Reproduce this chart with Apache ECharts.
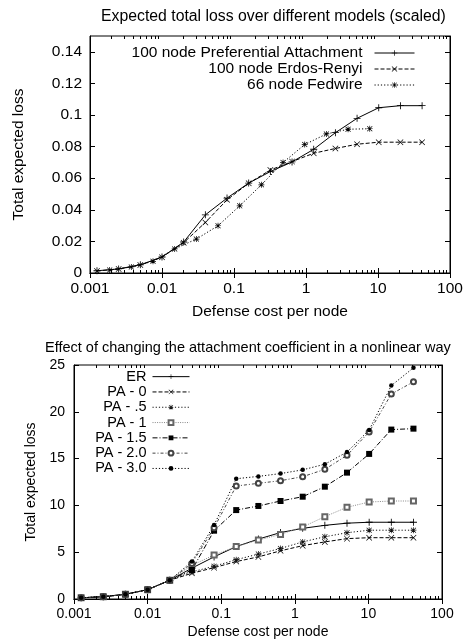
<!DOCTYPE html>
<html>
<head>
<meta charset="utf-8">
<script src="https://cdn.jsdelivr.net/npm/echarts@6/dist/echarts.min.js"></script>
<style>
html,body{margin:0;padding:0;background:#fff;}
#c{width:466px;height:643px;}
</style>
</head>
<body>
<div id="c"></div>
<script>
// ---------- Top chart data ----------
const topTitle = 'Expected total loss over different models (scaled)';
const topX = [0.00125, 0.0025, 0.005, 0.01, 0.02, 0.04, 0.08, 0.16, 0.32, 0.64, 1.28, 2.56, 5.12, 10.24, 20.48, 40.96];
const topPA = [0.0014, 0.0026, 0.0052, 0.0101, 0.0196, 0.0368, 0.0474, 0.0569, 0.0642, 0.0703, 0.0783, 0.0888, 0.0979, 0.1046, 0.1059, 0.1059];
const topER = [0.0013, 0.0025, 0.0050, 0.0100, 0.0192, 0.0320, 0.0463, 0.0568, 0.0652, 0.0705, 0.0758, 0.0788, 0.0815, 0.0828, 0.0828, 0.0828];
const fedX = [0.001875, 0.00375, 0.0075, 0.015, 0.03, 0.06, 0.12, 0.24, 0.48, 0.96, 1.92, 3.84, 7.68];
const fedY = [0.0019, 0.0038, 0.0074, 0.0152, 0.0215, 0.0299, 0.0425, 0.0558, 0.0699, 0.0813, 0.0880, 0.0910, 0.0913];
const topNames = ['100 node Preferential Attachment', '100 node Erdos-Renyi', '66 node Fedwire'];

// ---------- Bottom chart data ----------
const botTitle = 'Effect of changing the attachment coefficient in a nonlinear way';
const botX = [0.00125, 0.0025, 0.005, 0.01, 0.02, 0.04, 0.08, 0.16, 0.32, 0.64, 1.28, 2.56, 5.12, 10.24, 20.48, 40.96];
const botER   = [0.125, 0.25, 0.5, 1, 2, 3.3, 4.5, 5.6, 6.4, 7.1, 7.55, 7.87, 8.1, 8.2, 8.2, 8.2];
const botPA0  = [0.125, 0.25, 0.5, 1, 2, 2.75, 3.35, 4.0, 4.5, 5.15, 5.7, 6.1, 6.45, 6.55, 6.55, 6.55];
const botPA05 = [0.125, 0.25, 0.5, 1, 2, 2.9, 3.5, 4.2, 4.8, 5.4, 6.1, 6.65, 7.08, 7.35, 7.35, 7.35];
const botPA1  = [0.125, 0.25, 0.5, 1, 2, 3.6, 4.7, 5.6, 6.3, 6.9, 7.7, 8.8, 9.8, 10.36, 10.47, 10.47];
const botPA15 = [0.125, 0.25, 0.5, 1, 2, 3.1, 7.3, 9.5, 9.94, 10.47, 10.93, 12.0, 13.5, 15.5, 18.1, 18.2];
const botPA20 = [0.125, 0.25, 0.5, 1, 2, 3.8, 7.6, 12.07, 12.36, 12.64, 13.07, 13.85, 15.35, 17.84, 21.9, 23.2];
const botPA30 = [0.125, 0.25, 0.5, 1, 2, 4.0, 7.9, 12.85, 13.1, 13.4, 13.8, 14.4, 15.7, 18.05, 22.8, 24.7];
const botNames = ['ER', 'PA - 0', 'PA - .5', 'PA - 1', 'PA - 1.5', 'PA - 2.0', 'PA - 3.0'];

const xAxisName = 'Defense cost per node';
const yAxisName = 'Total expected loss';

// ---------- helpers ----------
const FONT = 'Liberation Sans, Arial, Helvetica, sans-serif';
const PLUS = 'path://M0,4.4H10V5.6H0ZM4.4,0H5.6V10H4.4Z';
const CROSS = 'path://M0.8,0L5,4.2L9.2,0L10,0.8L5.8,5L10,9.2L9.2,10L5,5.8L0.8,10L0,9.2L4.2,5L0,0.8Z';
const STAR = 'path://M0,4.4H10V5.6H0ZM4.4,0H5.6V10H4.4ZM1.2,0.4L5,4.2L8.8,0.4L9.6,1.2L5.8,5L9.6,8.8L8.8,9.6L5,5.8L1.2,9.6L0.4,8.8L4.2,5L0.4,1.2Z';

function pairs(xs, ys) { return xs.map((x, i) => [x, ys[i]]); }
function fmtLog(v) { return String(+Number(v).toPrecision(3)); }
const minorVals = [];
[0.001, 0.01, 0.1, 1, 10].forEach(d => { for (let k = 2; k <= 9; k++) minorVals.push(+(d * k).toPrecision(3)); });

function logAxes(gridIndex, fs, margin, nameGap) {
  const base = {
    type: 'log', logBase: 10, min: 0.001, max: 100, gridIndex: gridIndex,
    axisLine: { show: true, lineStyle: { color: '#000', width: 1 } },
    splitLine: { show: false },
    minorTick: { show: false }
  };
  return [
    Object.assign({}, base, {
      position: 'bottom',
      name: xAxisName, nameLocation: 'middle', nameGap: nameGap,
      nameTextStyle: { color: '#000', fontSize: fs, fontFamily: FONT },
      axisTick: { show: true, inside: true, length: 5, lineStyle: { color: '#000' } },
      axisLabel: { show: true, color: '#000', fontSize: fs, fontFamily: FONT, margin: margin, formatter: fmtLog }
    }),
    Object.assign({}, base, {
      position: 'top',
      axisTick: { show: true, inside: true, length: 5, lineStyle: { color: '#000' } },
      axisLabel: { show: false }
    }),
    Object.assign({}, base, {
      position: 'bottom',
      axisLine: { show: false },
      axisTick: { show: true, inside: true, length: 3, customValues: minorVals, lineStyle: { color: '#000' } },
      axisLabel: { show: false }
    }),
    Object.assign({}, base, {
      position: 'top',
      axisLine: { show: false },
      axisTick: { show: true, inside: true, length: 3, customValues: minorVals, lineStyle: { color: '#000' } },
      axisLabel: { show: false }
    })
  ];
}
function valAxes(gridIndex, max, interval, fs, margin, nameGap) {
  const base = {
    type: 'value', min: 0, max: max, interval: interval, gridIndex: gridIndex,
    axisLine: { show: true, lineStyle: { color: '#000', width: 1 } },
    splitLine: { show: false },
    axisTick: { show: true, inside: true, length: 5, lineStyle: { color: '#000' } }
  };
  return [
    Object.assign({}, base, {
      position: 'left',
      name: yAxisName, nameLocation: 'middle', nameGap: nameGap, nameRotate: 90,
      nameTextStyle: { color: '#000', fontSize: fs, fontFamily: FONT },
      axisLabel: { show: true, color: '#000', fontSize: fs, fontFamily: FONT, margin: margin, showMaxLabel: (max % interval === 0) }
    }),
    Object.assign({}, base, { position: 'right', axisLabel: { show: false } })
  ];
}

const xAxes = logAxes(0, 15.5, 8, 31).concat(logAxes(1, 14, 8, 26));
const yAxes = valAxes(0, 0.15, 0.02, 15.5, 8, 63).concat(valAxes(1, 25, 5, 14, 9, 36));

function ser(name, xs, ys, xi, yi, symbol, size, lineType, color, symColor) {
  return {
    type: 'line', name: name, xAxisIndex: xi, yAxisIndex: yi,
    data: pairs(xs, ys),
    symbol: symbol, symbolSize: size, showAllSymbol: true,
    lineStyle: { color: color, width: 1, type: lineType },
    itemStyle: { color: symColor, borderWidth: 1 },
    emphasis: { disabled: true },
    z: 3
  };
}

const series = [
  ser(topNames[0], topX, topPA, 0, 0, PLUS, 7, 'solid', '#000', '#000'),
  ser(topNames[1], topX, topER, 0, 0, CROSS, 6, [4, 2], '#000', '#000'),
  ser(topNames[2], fedX, fedY, 0, 0, STAR, 6, [1.2, 2], '#000', '#000'),
  ser(botNames[0], botX, botER, 4, 2, PLUS, 7, 'solid', '#000', '#000'),
  ser(botNames[1], botX, botPA0, 4, 2, CROSS, 6, [4, 2], '#000', '#000'),
  ser(botNames[2], botX, botPA05, 4, 2, STAR, 6, [1.2, 2], '#111', '#111'),
  ser(botNames[3], botX, botPA1, 4, 2, 'emptyRect', 5, [1, 1.3], '#888', '#666'),
  ser(botNames[4], botX, botPA15, 4, 2, 'rect', 6, [5, 2, 1, 2], '#000', '#000'),
  ser(botNames[5], botX, botPA20, 4, 2, 'emptyCircle', 5, [3, 2, 1, 2], '#444', '#444'),
  ser(botNames[6], botX, botPA30, 4, 2, 'circle', 4.5, [1.2, 2], '#000', '#000')
];

const chart = echarts.init(document.getElementById('c'), null, { renderer: 'canvas' });
chart.setOption({
  animation: false,
  backgroundColor: '#fff',
  textStyle: { fontFamily: FONT },
  title: [
    { text: topTitle, left: 96, top: 4, textStyle: { color: '#000', fontSize: 15.8, fontWeight: 'normal', fontFamily: FONT } },
    { text: botTitle, left: 40, top: 335, textStyle: { color: '#000', fontSize: 14.5, fontWeight: 'normal', fontFamily: FONT } }
  ],
  legend: [
    {
      data: topNames, orient: 'vertical', align: 'right', right: 46, top: 40,
      itemWidth: 40, itemHeight: 7, itemGap: 0, selectedMode: false,
      lineStyle: { width: 1 },
      textStyle: { color: '#000', fontSize: 15.5, lineHeight: 16, fontFamily: FONT, padding: [0, 7, 0, 0] }
    },
    {
      data: botNames, orient: 'vertical', align: 'right', right: 271, top: 364,
      itemWidth: 37, itemHeight: 6, itemGap: 0, selectedMode: false,
      lineStyle: { width: 1 },
      textStyle: { color: '#000', fontSize: 14.5, lineHeight: 15.3, fontFamily: FONT, padding: [0, 1, 0, 0] }
    }
  ],
  grid: [
    { left: 90, right: 16, top: 36, height: 237, show: true, borderColor: '#000', borderWidth: 1, backgroundColor: 'transparent' },
    { left: 74, right: 24, top: 365, height: 234, show: true, borderColor: '#000', borderWidth: 1, backgroundColor: 'transparent' }
  ],
  xAxis: xAxes,
  yAxis: yAxes,
  series: series
});
</script>
</body>
</html>
